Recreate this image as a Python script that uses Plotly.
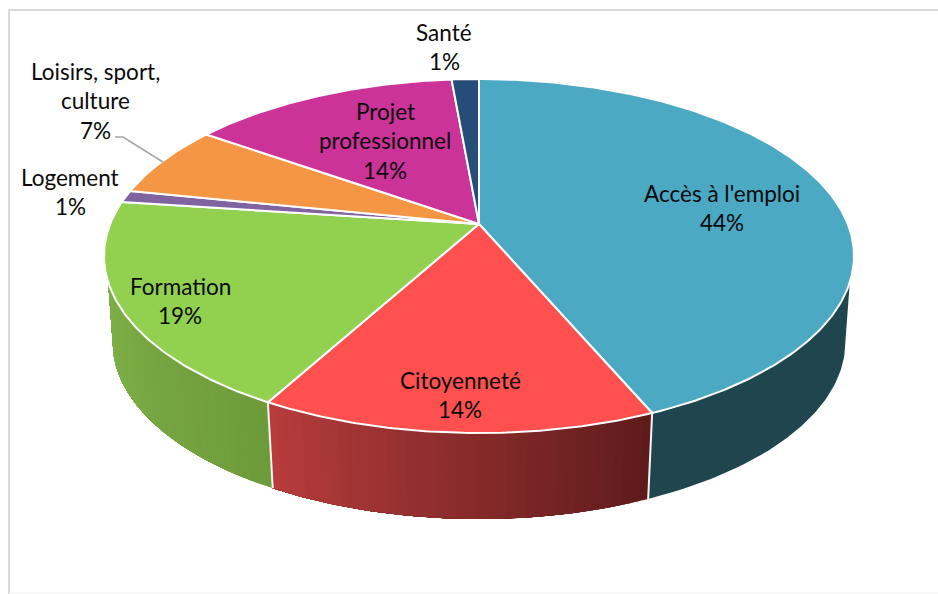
import numpy as np
import plotly.graph_objects as go

# ---- data ----
categories = ["Accès à l'emploi", "Citoyenneté", "Formation", "Logement",
              "Loisirs, sport, culture", "Projet professionnel", "Santé"]
values = [43.6, 14.4, 19.1, 1.1, 6.6, 13.8, 1.4]
label_lines = [["Accès à l'emploi"], ["Citoyenneté"], ["Formation"], ["Logement"],
               ["Loisirs, sport,", "culture"], ["Projet", "professionnel"], ["Santé"]]

# ---- styles ----
top_colors = ["#4BA9C4", "#FF5050", "#92D050", "#8064A2", "#F59645", "#CC3399", "#264D78"]
side_left = ["#1F454F", "#B83C3C", "#7FB148", "#5A4672", "#AD6A31", "#8F246B", "#1B3654"]
side_right = ["#1F454F", "#5E1B1B", "#6D9B3A", "#5A4672", "#AD6A31", "#8F246B", "#1B3654"]
label_x = [722, 460, 180, 70, 95, 385, 444]
label_y = [194, 381, 287, 178, 72, 112, 33]
LINE_STEP = 29.5

# ---- perspective geometry of the disc ----
CX, CY = 479, 224
K, A, B = 0.1808, 368.8, 171.2
DEPTH, BOTTOM_SHRINK = 86, 0.977
# turns (clockwise from the top) where the wall's silhouette meets each rim
TOP_START, TOP_END = 0.302, 0.698
LOW_START, LOW_END = 0.29, 0.71


def project(turn, lower=False):
    theta = 2 * np.pi * np.asarray(turn)
    u, v = np.sin(theta), -np.cos(theta)
    w = 1 - K * v
    shrink = BOTTOM_SHRINK if lower else 1
    return CX + shrink * A * u / w, CY + B * v / w + (DEPTH if lower else 0)


def hex_mix(c1, c2, t):
    a = np.array([int(c1[i:i + 2], 16) for i in (1, 3, 5)])
    b = np.array([int(c2[i:i + 2], 16) for i in (1, 3, 5)])
    m = (a + (b - a) * t).round().astype(int)
    return "#%02x%02x%02x" % tuple(m)


fig = go.Figure()
edges = np.concatenate([[0], np.cumsum(values)]) / sum(values)

# side wall: overlapping strips painted one over the next give a seamless gradient
for i, name in enumerate(categories):
    a0, a1 = edges[i], edges[i + 1]
    front0, front1 = max(a0, LOW_START), min(a1, LOW_END)
    if front1 <= front0:
        continue
    n = 40 if side_left[i] != side_right[i] else 1
    cuts = np.linspace(front0, front1, n + 1)
    for j in range(n):
        t_top = np.linspace(min(max(cuts[j], TOP_START), TOP_END),
                            min(front1, TOP_END), 60)
        t_low = np.linspace(cuts[j], front1, 60)
        xt, yt = project(t_top)
        xb, yb = project(t_low, lower=True)
        # clockwise turn moves right to left along the front of the disc
        col = hex_mix(side_right[i], side_left[i], (j + 0.5) / n)
        fig.add_trace(go.Scatter(
            x=np.r_[xt, xb[::-1]], y=np.r_[yt, yb[::-1]], mode="lines",
            fill="toself", fillcolor=col, line=dict(color=col, width=0),
            hoverinfo="skip", showlegend=False))

# white seams at the wedge ends
for e in edges[1:-1]:
    if LOW_START < e < LOW_END:
        xt, yt = project([e])
        xb, yb = project([e], lower=True)
        fig.add_trace(go.Scatter(
            x=[xt[0], xb[0]], y=[yt[0], yb[0]], mode="lines",
            line=dict(color="#F4F4F4", width=2),
            hoverinfo="skip", showlegend=False))

# top face
for i, name in enumerate(categories):
    t = np.linspace(edges[i], edges[i + 1], max(4, int(values[i] * 6)))
    x, y = project(t)
    fig.add_trace(go.Scatter(
        x=np.r_[CX, x, CX], y=np.r_[CY, y, CY], mode="lines", fill="toself",
        fillcolor=top_colors[i], line=dict(color="#FFFFFF", width=2),
        name=name, text=f"{name}: {round(values[i])}%", hoverinfo="text",
        showlegend=False))

# leader line of the "Loisirs" label
fig.add_trace(go.Scatter(x=[115, 123, 163], y=[137, 137, 162], mode="lines",
                         line=dict(color="#A6A6A6", width=1.6),
                         hoverinfo="skip", showlegend=False))

# labels
annotations = []
for i, lines in enumerate(label_lines):
    for n, txt in enumerate(lines + [f"{round(values[i])}%"]):
        annotations.append(dict(
            x=label_x[i], y=label_y[i] + n * LINE_STEP - 1, text=txt, showarrow=False,
            xanchor="center", yanchor="middle", xref="x", yref="y",
            font=dict(family="Lato, Carlito, sans-serif", size=22.5, color="#0A0A0A")))

fig.update_layout(
    width=938, height=594, margin=dict(l=0, r=0, t=0, b=0),
    paper_bgcolor="white", plot_bgcolor="white",
    xaxis=dict(range=[0, 938], visible=False, fixedrange=True),
    yaxis=dict(range=[594, 0], visible=False, fixedrange=True),
    annotations=annotations,
    shapes=[
        dict(type="line", x0=8, y0=10, x1=938, y1=10, layer="below",
             line=dict(color="#D9D9D9", width=2)),
        dict(type="line", x0=9, y0=10, x1=9, y1=594, layer="below",
             line=dict(color="#D9D9D9", width=2)),
        dict(type="line", x0=9, y0=593, x1=938, y1=593, layer="below",
             line=dict(color="#F2F2F2", width=1)),
    ],
)
fig.write_html("out.html", config={"displayModeBar": False},
               post_script="document.body.style.margin='0';document.body.style.overflow='hidden';")
